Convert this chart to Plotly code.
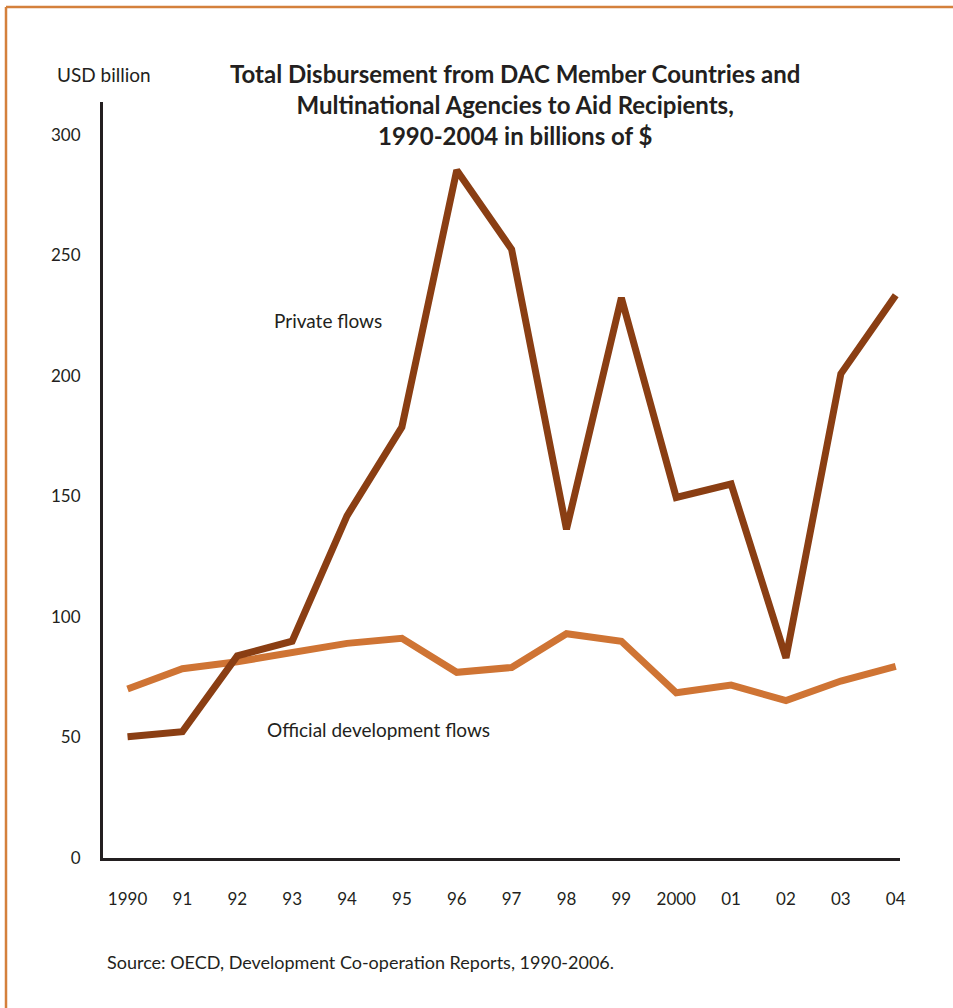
import plotly.graph_objects as go

# Years and axis labels
years = list(range(1990, 2005))
year_labels = ["1990", "91", "92", "93", "94", "95", "96", "97", "98", "99",
               "2000", "01", "02", "03", "04"]

# Disbursements, USD billion
private_flows = [50.3, 52.4, 83.8, 89.9, 141.9, 178.7, 285.2, 252.4,
                 136.3, 232.3, 149.5, 155.1, 83.0, 200.8, 233.4]
official_flows = [70.1, 78.5, 81.4, 85.4, 89.0, 91.1, 77.0, 79.0,
                  93.0, 89.9, 68.5, 71.7, 65.3, 73.4, 79.5]

y_ticks = [0, 50, 100, 150, 200, 250, 300]

W, H = 953, 1008
ML, MR, MT, MB = 103, 53, 102, 150
PW, PH = W - ML - MR, H - MT - MB

INK = "#231f20"
BROWN = "#8a3e13"
ORANGE = "#cf7434"
FRAME = "#d4803c"
FONT = "Lato"


def px_x(p):
    return (p - ML) / PW


def px_y(p):
    return (H - MB - p) / PH


fig = go.Figure()
fig.add_trace(go.Scatter(
    x=years, y=official_flows, mode="lines", name="Official development flows",
    line=dict(color=ORANGE, width=7), cliponaxis=False,
))
fig.add_trace(go.Scatter(
    x=years, y=private_flows, mode="lines", name="Private flows",
    line=dict(color=BROWN, width=7), cliponaxis=False,
))

fig.update_layout(
    width=W, height=H,
    margin=dict(l=ML, r=MR, t=MT, b=MB, pad=0),
    paper_bgcolor="white", plot_bgcolor="white",
    showlegend=False,
    font=dict(family=FONT, color=INK, size=17),
    xaxis=dict(
        range=[1989.553, 2004.078],
        tickvals=years, ticktext=year_labels,
        showgrid=False, zeroline=False,
        showline=True, linecolor=INK, linewidth=3,
        ticks="", ticklabelstandoff=24,
        tickfont=dict(family=FONT, size=17, color=INK),
        fixedrange=True,
    ),
    yaxis=dict(
        range=[0, 313.5],
        tickvals=y_ticks,
        showgrid=False, zeroline=False,
        showline=True, linecolor=INK, linewidth=3,
        ticks="", ticklabelstandoff=16,
        tickfont=dict(family=FONT, size=17, color=INK),
        fixedrange=True,
    ),
)

annotations = [
    dict(text="<b>Total Disbursement from DAC Member Countries and<br>"
              "Multinational Agencies to Aid Recipients,<br>"
              "1990-2004 in billions of $</b>",
         xref="paper", yref="paper", x=px_x(515), y=px_y(104),
         xanchor="center", yanchor="middle", showarrow=False,
         font=dict(family=FONT, size=24, color=INK)),
    dict(text="USD billion", xref="paper", yref="paper",
         x=px_x(55), y=px_y(74), xanchor="left", yanchor="middle",
         showarrow=False, font=dict(family=FONT, size=19, color=INK)),
    dict(text="Private flows", xref="x", yref="y",
         x=1993.65, y=223.1, xanchor="center", yanchor="middle",
         showarrow=False, font=dict(family=FONT, size=19, color=INK)),
    dict(text="Official development flows", xref="x", yref="y",
         x=1994.58, y=53.1, xanchor="center", yanchor="middle",
         showarrow=False, font=dict(family=FONT, size=19, color=INK)),
    dict(text="Source: OECD, Development Co-operation Reports, 1990-2006.",
         xref="paper", yref="paper", x=px_x(105), y=px_y(962),
         xanchor="left", yanchor="middle", showarrow=False,
         font=dict(family=FONT, size=18, color=INK)),
]
fig.update_layout(annotations=annotations)

# Page frame: top and left rules
fig.update_layout(shapes=[
    dict(type="line", xref="paper", yref="paper",
         x0=px_x(6), x1=px_x(W + 5), y0=px_y(7), y1=px_y(7),
         line=dict(color=FRAME, width=2.5)),
    dict(type="line", xref="paper", yref="paper",
         x0=px_x(6), x1=px_x(6), y0=px_y(7), y1=px_y(H + 5),
         line=dict(color=FRAME, width=2.5)),
])

fig.write_html("out.html", config={"displayModeBar": False})
